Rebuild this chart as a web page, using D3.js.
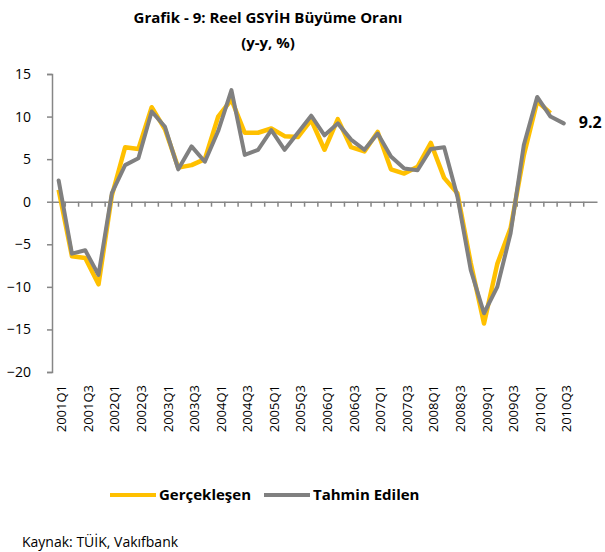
<!DOCTYPE html>
<html>
<head>
<meta charset="utf-8">
<script src="https://cdn.jsdelivr.net/npm/d3@7"></script>
<style>
  body { margin: 0; background: #fff; }
  text { font-family: "Open Sans", "Noto Sans", sans-serif; }
</style>
</head>
<body>
<svg id="chart"></svg>
<script>
const quarters = [];
for (let yr = 2001; yr <= 2011; yr++) {
  for (let q = 1; q <= 4; q++) {
    if (yr === 2011 && q > 1) break;
    quarters.push(yr + 'Q' + q);
  }
}

const tickLabels = ['2001Q1', '2001Q3', '2002Q1', '2002Q3', '2003Q1', '2003Q3', '2004Q1', '2004Q3',
  '2005Q1', '2005Q3', '2006Q1', '2006Q3', '2007Q1', '2007Q3', '2008Q1', '2008Q3',
  '2009Q1', '2009Q3', '2010Q1', '2010Q3'];

const gerceklesen = [1.4, -6.4, -6.6, -9.7, 0.7, 6.4, 6.2, 11.1, 8.5, 4.0, 4.3, 5.0, 10.0, 12.0,
  8.1, 8.1, 8.6, 7.7, 7.6, 9.6, 6.1, 9.7, 6.4, 5.9, 8.2, 3.8, 3.3, 4.1, 6.9, 2.8, 1.0, -7.2,
  -14.3, -7.3, -3.1, 5.5, 11.8, 10.4];

const tahmin = [2.5, -6.1, -5.7, -8.6, 1.0, 4.3, 5.1, 10.6, 8.8, 3.8, 6.5, 4.7, 8.3, 13.1,
  5.5, 6.1, 8.4, 6.1, 8.1, 10.1, 7.8, 9.2, 7.3, 6.1, 8.0, 5.3, 3.9, 3.7, 6.2, 6.4, 0.6, -8.0,
  -13.1, -10.0, -3.7, 6.7, 12.3, 10.0, 9.2];

const yTicks = [15, 10, 5, 0, -5, -10, -15, -20];

const width = 605;
const height = 552;
const margin = { top: 74, right: 8, bottom: 180, left: 52 };

const svg = d3.select('#chart')
  .attr('width', width)
  .attr('height', height);

const x = d3.scaleBand()
  .domain(quarters)
  .range([margin.left, width - margin.right]);

const y = d3.scaleLinear()
  .domain([-20, 15])
  .range([height - margin.bottom, margin.top]);

const cx = i => x(quarters[i]) + x.bandwidth() / 2;

// y axis
const yAxis = svg.append('g')
  .attr('transform', `translate(${margin.left},0)`)
  .call(d3.axisLeft(y).tickValues(yTicks).tickSize(5).tickSizeOuter(5));
yAxis.select('.domain').attr('stroke', '#868686').attr('stroke-width', 1.5);
yAxis.selectAll('.tick line').attr('stroke', '#868686').attr('stroke-width', 1.5);
yAxis.selectAll('.tick text')
  .attr('font-size', 14)
  .attr('fill', '#000')
  .attr('x', -21)
  .style('font-family', '"Open Sans", sans-serif');

// x axis at zero
const xAxis = svg.append('g')
  .attr('transform', `translate(0,${y(0)})`)
  .call(d3.axisBottom(x).tickSize(0).tickFormat(''));
xAxis.select('.domain').attr('stroke', '#868686').attr('stroke-width', 1.5);

svg.append('g')
  .selectAll('line')
  .data(quarters.slice(1))
  .join('line')
  .attr('x1', d => x(d))
  .attr('x2', d => x(d))
  .attr('y1', y(0))
  .attr('y2', y(0) + 5)
  .attr('stroke', '#868686')
  .attr('stroke-width', 1.5);

svg.append('g')
  .selectAll('text')
  .data(tickLabels)
  .join('text')
  .attr('transform', d => `translate(${x(d) + x.bandwidth() / 2 + 3},385) rotate(-90)`)
  .attr('text-anchor', 'end')
  .attr('dy', '0.35em')
  .attr('font-size', 13)
  .text(d => d);

const line = d3.line()
  .x((d, i) => cx(i))
  .y(d => y(d));

svg.append('path')
  .datum(gerceklesen)
  .attr('fill', 'none')
  .attr('stroke', '#FFC000')
  .attr('stroke-width', 4.5)
  .attr('stroke-linejoin', 'round')
  .attr('d', line);

svg.append('path')
  .datum(tahmin)
  .attr('fill', 'none')
  .attr('stroke', '#808080')
  .attr('stroke-width', 4)
  .attr('stroke-linecap', 'round')
  .attr('stroke-linejoin', 'round')
  .attr('d', line);

const last = tahmin.length - 1;
svg.append('text')
  .attr('x', cx(last) + 15)
  .attr('y', y(tahmin[last]) + 5)
  .attr('font-size', 16)
  .attr('font-weight', 'bold')
  .text(tahmin[last].toFixed(1));

// title
svg.append('text')
  .attr('x', 268)
  .attr('y', 23)
  .attr('text-anchor', 'middle')
  .attr('font-size', 15)
  .attr('font-weight', 'bold')
  .text('Grafik - 9: Reel GSYİH Büyüme Oranı');

svg.append('text')
  .attr('x', 268)
  .attr('y', 48)
  .attr('text-anchor', 'middle')
  .attr('font-size', 15)
  .attr('font-weight', 'bold')
  .text('(y-y, %)');

// legend
const legend = [
  { name: 'Gerçekleşen', color: '#FFC000', x: 110 },
  { name: 'Tahmin Edilen', color: '#808080', x: 264 }
];
const lg = svg.append('g')
  .selectAll('g')
  .data(legend)
  .join('g')
  .attr('transform', d => `translate(${d.x},495)`);
lg.append('line')
  .attr('x1', 0).attr('x2', 46)
  .attr('stroke', d => d.color)
  .attr('stroke-width', 4);
lg.append('text')
  .attr('x', 49)
  .attr('dy', '0.35em')
  .attr('font-size', 15)
  .attr('font-weight', 'bold')
  .text(d => d.name);

svg.append('text')
  .attr('x', 22)
  .attr('y', 547)
  .attr('font-size', 14)
  .text('Kaynak: TÜİK, Vakıfbank');
</script>
</body>
</html>
